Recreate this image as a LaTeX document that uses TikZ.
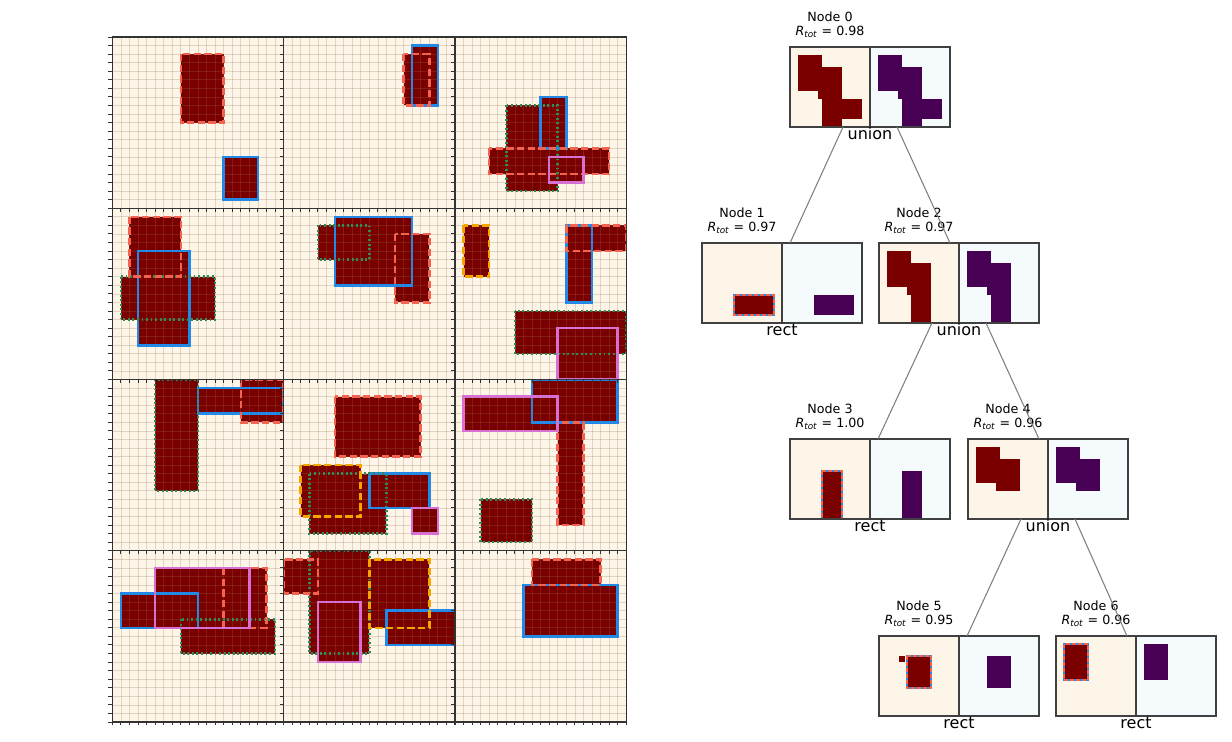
\documentclass[tikz,border=0pt]{standalone}
\usepackage{fontspec}
\setmainfont{DejaVu Sans}
\usetikzlibrary{calc}
\definecolor{cream}{RGB}{253,245,232}
\definecolor{mfill}{RGB}{122,0,0}
\definecolor{cblue}{RGB}{35,137,230}
\definecolor{cred}{RGB}{242,100,80}
\definecolor{cgreen}{RGB}{46,139,87}
\definecolor{corange}{RGB}{245,165,0}
\definecolor{cpink}{RGB}{214,112,210}
\definecolor{gridc}{RGB}{150,110,80}
\definecolor{tpurple}{RGB}{72,0,84}
\definecolor{tbg}{RGB}{245,251,252}
\tikzset{
  outl/.style={line width=1.9pt},
  blueo/.style={outl, draw=cblue},
  redo/.style={outl, draw=cred, dash pattern=on 5.5pt off 2.5pt},
  greeno/.style={outl, draw=cgreen, dash pattern=on 1.4pt off 2pt},
  orangeo/.style={outl, draw=corange, dash pattern=on 5.5pt off 2.5pt},
  pinko/.style={outl, draw=cpink},
  gridl/.style={draw=gridc, opacity=0.25, line width=0.55pt},
  panelframe/.style={draw=black!80, line width=0.8pt},
  tickmark/.style={draw=black!80, line width=0.7pt},
  tbox/.style={draw=black!75, line width=0.8pt, minimum width=60pt, minimum height=60pt, inner sep=0pt, outer sep=0pt, anchor=north west},
  ttl/.style={font=\fontsize{9.5}{11}\selectfont, inner sep=0pt},
  lbl/.style={font=\fontsize{12}{14}\selectfont, inner sep=0pt},
  edge/.style={draw=black!50, line width=0.8pt},
  sblue/.style={line width=1.3pt, draw=cblue},
  sred/.style={line width=1.3pt, draw=cred, dash pattern=on 3pt off 1.5pt}
}
\newcommand\fillrect[4]{\fill[mfill] (#1,#2) rectangle (#3,#4);}
\newcommand\gobf[4]{}
\newcommand\doB[4]{\draw[blueo] (#1,#2) rectangle (#3,#4);}
\newcommand\doR[4]{\draw[redo] (#1,#2) rectangle (#3,#4);}
\newcommand\doG[4]{\draw[greeno] (#1,#2) rectangle (#3,#4);}
\newcommand\doO[4]{\draw[orangeo] (#1,#2) rectangle (#3,#4);}
\newcommand\doP[4]{\draw[pinko] (#1,#2) rectangle (#3,#4);}
\newcommand\drawpanel[3]{%
\begin{scope}[shift={({112.3+171.33*#2},{37+171.25*#1})},xscale=8.5667,yscale=8.5625]
\fill[cream] (0,0) rectangle (20,20);
\begin{scope}
\clip (0,0) rectangle (20,20);
\let\xR\fillrect\let\xB\fillrect\let\xG\fillrect\let\xO\fillrect\let\xP\fillrect
#3
\foreach \i in {1,...,19}{\draw[gridl] (\i,0) -- (\i,20); \draw[gridl] (0,\i) -- (20,\i);}
\let\xR\gobf\let\xG\gobf\let\xO\gobf\let\xP\gobf\let\xB\doB #3
\let\xB\gobf\let\xG\doG #3
\let\xG\gobf\let\xO\doO #3
\let\xO\gobf\let\xR\doR #3
\let\xR\gobf\let\xP\doP #3
\end{scope}
\end{scope}}
\newcommand\sOne[1]{\fill[#1] (8,13) rectangle (18,18);}
\newcommand\sThree[1]{\fill[#1] (8,8) rectangle (13,20);}
\newcommand\sFive[1]{\fill[#1] (7,5) rectangle (13,13);}
\newcommand\sSix[1]{\fill[#1] (2,2) rectangle (8,11);}
\newcommand\sFour[1]{\sFive{#1}\sSix{#1}}
\newcommand\sTwo[1]{\sThree{#1}\sFour{#1}}
\newcommand\sZero[1]{\sOne{#1}\sTwo{#1}}
\newcommand\treenode[7]{%
 \begin{scope}[shift={(#2,#3)},scale=4]
  \fill[cream] (0,0) rectangle (20,20);
  #4{mfill}
  #5
 \end{scope}
 \begin{scope}[shift={({#2+80},#3)},scale=4]
  \fill[tbg] (0,0) rectangle (20,20);
  #4{tpurple}
 \end{scope}
 \node[tbox] (n#1l) at (#2,#3) {};
 \node[tbox] (n#1r) at ({#2+80},#3) {};
 \node[ttl] (n#1t) at ({#2+40},{#3-30}) {Node #1};
 \node[ttl] (n#1R) at ({#2+40},{#3-15}) {\textit{R}\textsubscript{\textit{tot}} = #6};
 \node[lbl] (n#1x) at ({#2+80},{#3+87}) {#7};
}
\begin{document}
\begin{tikzpicture}[x=0.75pt,y=-0.75pt]
\fill[white] (0,0) rectangle (1232,742);
\useasboundingbox (0,0) rectangle (1232,742);
% ---- grid of panels
\drawpanel{0}{0}{\xR{8}{2}{13}{10}\xB{13}{14}{17}{19}}
\drawpanel{0}{1}{\xB{15}{1}{18}{8}\xR{14}{2}{17}{8}}
\drawpanel{0}{2}{\xB{10}{7}{13}{13}\xG{6}{8}{12}{18}\xR{4}{13}{18}{16}\xP{11}{14}{15}{17}}
\drawpanel{1}{0}{\xR{2}{1}{8}{8}\xB{3}{5}{9}{16}\xG{1}{8}{12}{13}}
\drawpanel{1}{1}{\xB{6}{1}{15}{9}\xG{4}{2}{10}{6}\xR{13}{3}{17}{11}}
\drawpanel{1}{2}{\xO{1}{2}{4}{8}\xB{13}{2}{16}{11}\xR{13}{2}{20}{5}\xG{7}{12}{20}{17}\xP{12}{14}{19}{20}}
\drawpanel{2}{0}{\xG{5}{0}{10}{13}\xB{10}{1}{20}{4}\xR{15}{0}{20}{5}}
\drawpanel{2}{1}{\xR{6}{2}{16}{9}\xO{2}{10}{9}{16}\xG{3}{11}{12}{18}\xB{10}{11}{17}{15}\xP{15}{15}{18}{18}}
\drawpanel{2}{2}{\xB{9}{0}{19}{5}\xP{1}{2}{12}{6}\xR{12}{5}{15}{17}\xG{3}{14}{9}{19}}
\drawpanel{3}{0}{\xP{5}{2}{16}{9}\xR{13}{2}{18}{9}\xB{1}{5}{10}{9}\xG{8}{8}{19}{12}}
\drawpanel{3}{1}{\xR{0}{1}{4}{5}\xG{3}{0}{10}{12}\xP{4}{6}{9}{13}\xO{10}{1}{17}{9}\xB{12}{7}{20}{11}}
\drawpanel{3}{2}{\xR{9}{1}{17}{4}\xB{8}{4}{19}{10}}
\foreach \r in {0,...,3}{\foreach \c in {0,...,2}{
 \begin{scope}[shift={({112.3+171.33*\c},{37+171.25*\r})},xscale=8.5667,yscale=8.5625]
  \draw[panelframe] (0,0) rectangle (20,20);
  \foreach \i in {0,...,20}{\draw[tickmark] (0,\i) -- (-0.45,\i); \draw[tickmark] (\i,20) -- (\i,20.4);}
 \end{scope}}}
% ---- tree
\treenode{0}{790}{47}{\sZero}{}{0.98}{union}
\treenode{1}{702}{243}{\sOne}{\draw[sblue] (8,13) rectangle (18,18); \draw[sred] (8,13) rectangle (18,18);}{0.97}{rect}
\treenode{2}{879}{243}{\sTwo}{}{0.97}{union}
\treenode{3}{790}{439}{\sThree}{\draw[sblue] (8,8) rectangle (13,20); \draw[sred] (8,8) rectangle (13,20);}{1.00}{rect}
\treenode{4}{968}{439}{\sFour}{}{0.96}{union}
\treenode{5}{879}{636}{\sFive}{\fill[mfill] (5,5) rectangle (6.5,6.5); \draw[sblue] (7,5) rectangle (13,13); \draw[sred] (7,5) rectangle (13,13);}{0.95}{rect}
\treenode{6}{1056}{636}{\sSix}{\draw[sblue] (2,2) rectangle (8,11); \draw[sred] (2,2) rectangle (8,11);}{0.96}{rect}
\draw[edge] ($(n0l.south west)+(53,0)$) -- ($(n1l.north west)+(88,0)$);
\draw[edge] ($(n0l.south west)+(107,0)$) -- ($(n2l.north west)+(71,0)$);
\draw[edge] ($(n2l.south west)+(53,0)$) -- ($(n3l.north west)+(88,0)$);
\draw[edge] ($(n2l.south west)+(107,0)$) -- ($(n4l.north west)+(71,0)$);
\draw[edge] ($(n4l.south west)+(53,0)$) -- ($(n5l.north west)+(88,0)$);
\draw[edge] ($(n4l.south west)+(107,0)$) -- ($(n6l.north west)+(71,0)$);
\end{tikzpicture}
\end{document}
